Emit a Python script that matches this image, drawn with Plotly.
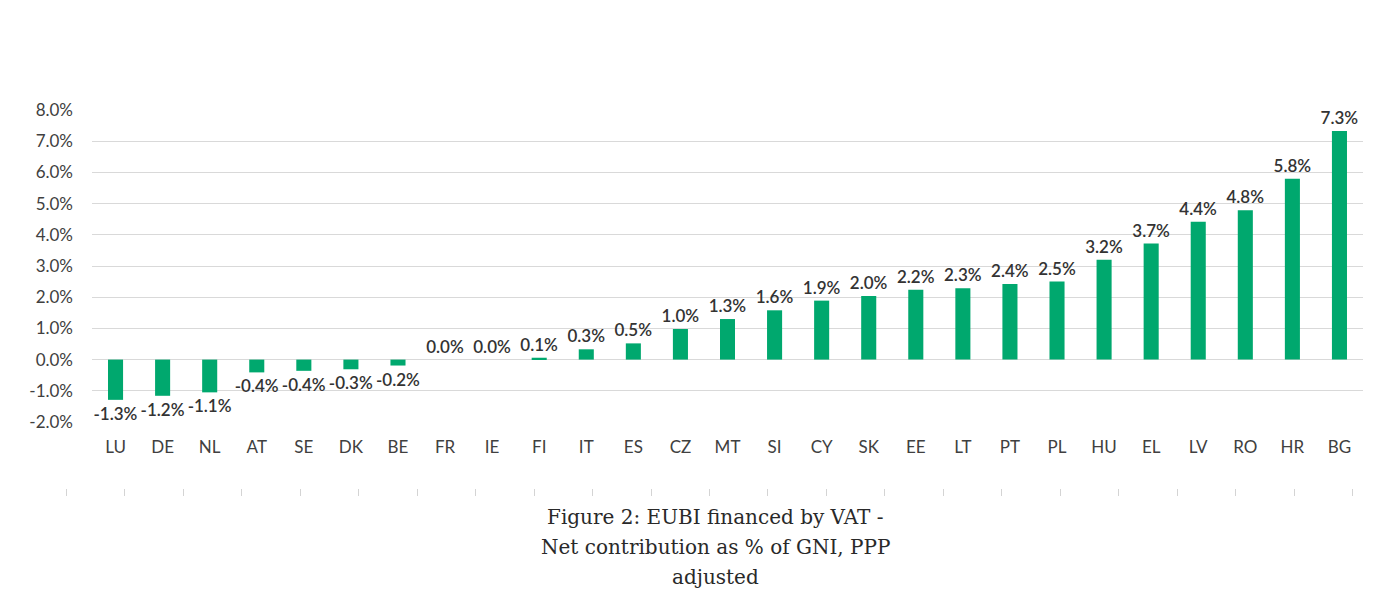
import plotly.graph_objects as go

countries = ["LU", "DE", "NL", "AT", "SE", "DK", "BE", "FR", "IE", "FI", "IT", "ES", "CZ",
             "MT", "SI", "CY", "SK", "EE", "LT", "PT", "PL", "HU", "EL", "LV", "RO", "HR", "BG"]
values = [-1.29, -1.16, -1.05, -0.41, -0.36, -0.31, -0.19, 0.0, 0.0, 0.06, 0.33, 0.52, 0.98,
          1.30, 1.58, 1.89, 2.04, 2.24, 2.29, 2.42, 2.50, 3.20, 3.72, 4.42, 4.79, 5.80, 7.33]
labels = ["-1.3%", "-1.2%", "-1.1%", "-0.4%", "-0.4%", "-0.3%", "-0.2%", "0.0%", "0.0%", "0.1%",
          "0.3%", "0.5%", "1.0%", "1.3%", "1.6%", "1.9%", "2.0%", "2.2%", "2.3%", "2.4%", "2.5%",
          "3.2%", "3.7%", "4.4%", "4.8%", "5.8%", "7.3%"]
y_ticks = [-2, -1, 0, 1, 2, 3, 4, 5, 6, 7, 8]
y_tick_labels = ["-2.0%", "-1.0%", "0.0%", "1.0%", "2.0%", "3.0%", "4.0%", "5.0%", "6.0%", "7.0%", "8.0%"]
caption_lines = ["Figure 2: EUBI financed by VAT -", "Net contribution as % of GNI, PPP", "adjusted"]
deco_ticks = list(range(0, 23))

OFF = 8  # page body margin
W, H = 1400, 609
ML, MR, MT, MB = 50, 30, 102, 129
plot_w = W - ML - MR
plot_h = H - MT - MB

def px_x(x):
    return (x - OFF - ML) / plot_w

def px_y(y):
    return (H - MB - (y - OFF)) / plot_h

fig = go.Figure()
fig.add_trace(go.Bar(
    x=countries, y=values, text=labels, textposition="outside",
    textfont=dict(family="Lato", size=17, color="#333333", weight=600),
    constraintext="none",
    marker=dict(color="#00A86E", line=dict(width=0)),
    width=0.32, cliponaxis=False, hoverinfo="skip",
))
# invisible trace carrying the decorative tick axis (own tiny subplot at the bottom)
fig.add_trace(go.Scatter(x=[deco_ticks[0], deco_ticks[-1]], y=[None, None], xaxis="x2", yaxis="y2",
                         mode="markers", showlegend=False, hoverinfo="skip"))

fig.update_layout(
    width=W, height=H,
    margin=dict(l=ML, r=MR, t=MT, b=MB, autoexpand=False),
    paper_bgcolor="white", plot_bgcolor="rgba(0,0,0,0)",
    showlegend=False,
    font=dict(family="Lato", size=17, color="#404040"),
    xaxis=dict(domain=[px_x(92), px_x(1363)], range=[-0.5, len(countries) - 0.5],
               showgrid=False, showline=False, ticks="", zeroline=False,
               tickfont=dict(family="Lato", size=17, color="#404040"),
               ticklabelstandoff=13, anchor="y"),
    xaxis2=dict(domain=[px_x(66), px_x(1353)], range=[-0.001, 22.001],
                anchor="y2",
                tickmode="array", tickvals=deco_ticks, ticks="outside", ticklen=7,
                tickcolor="#d4d4d4", tickwidth=1, showticklabels=False,
                showgrid=False, showline=False, zeroline=False),
    yaxis2=dict(domain=[0, 0.002], anchor="x2", visible=False, showgrid=False, range=[0, 1]),
    yaxis=dict(domain=[px_y(422), 1], range=[-2, 8], anchor="x",
               tickmode="array", tickvals=y_ticks, ticktext=y_tick_labels,
               showgrid=True, gridcolor="#d9d9d9", gridwidth=1,
               zeroline=True, zerolinecolor="#d9d9d9", zerolinewidth=1,
               showline=False, ticks="",
               tickfont=dict(family="Lato", size=17, color="#404040"),
               ticklabelstandoff=18),
)

for i, line in enumerate(caption_lines):
    fig.add_annotation(text=line, xref="paper", yref="paper",
                       x=px_x(715), y=px_y(517 + 30 * i), xanchor="center", yanchor="middle",
                       showarrow=False,
                       font=dict(family="DejaVu Serif", size=20, color="#292929"))

fig.write_html("out.html")
